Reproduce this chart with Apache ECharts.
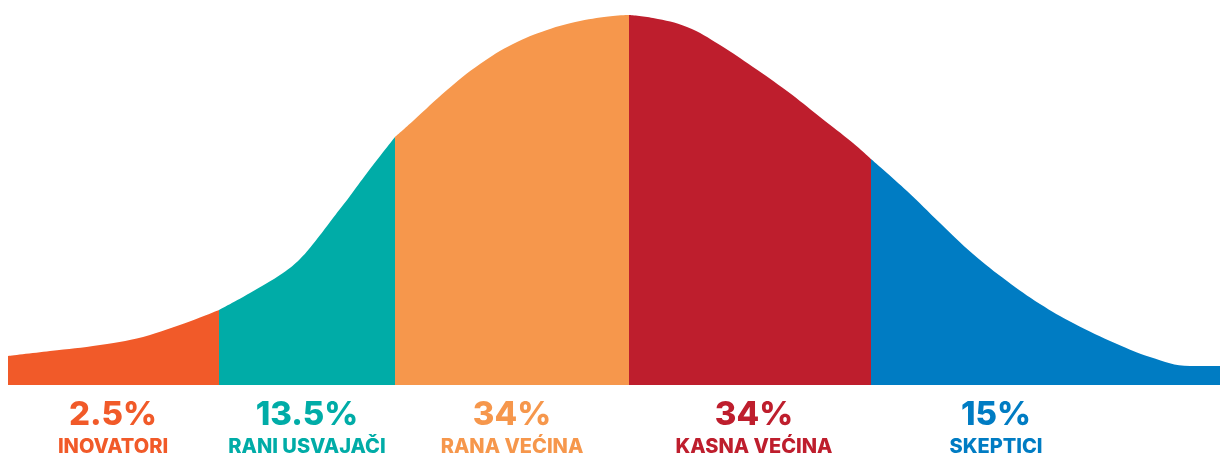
<!DOCTYPE html>
<html>
<head>
<meta charset="utf-8">
<script src="https://cdn.jsdelivr.net/npm/echarts@6/dist/echarts.min.js"></script>
<style>
  html, body { margin: 0; padding: 0; background: #fff; }
  #main { width: 1220px; height: 456px; }
</style>
</head>
<body>
<div id="main"></div>
<script>
// curve (x along the base, h = height above the base)
const curveX = [0, 42, 92, 142, 211, 242, 275, 292, 309, 325, 342, 359, 387, 405, 439, 472, 505, 539, 572, 605, 621, 645, 679, 712, 745, 779, 812, 845, 863, 899, 932, 965, 999, 1032, 1065, 1109, 1142, 1182, 1212]
const curveH = [29, 34, 40, 50, 75, 92, 112, 126, 146, 167, 189, 212, 248, 264, 295, 321, 341, 355, 364, 369, 370, 367, 358, 340, 318, 294, 268, 242, 226, 194, 162, 131, 104, 81, 62, 41, 28, 19, 19]

// segment borders
const breakX = [0, 211, 387, 621, 863, 1212]
const segColors = ["#F15A29", "#00ACA7", "#F6974C", "#BE1E2D", "#007CC3"]
const pctLabels = ["2.5%", "13.5%", "34%", "34%", "15%"]
const nameLabels = ["INOVATORI", "RANI USVAJAČI", "RANA VEĆINA", "KASNA VEĆINA", "SKEPTICI"]
const labelX = [105, 299, 504, 746, 988]

let chart = echarts.init(document.getElementById("main"))

let series = []
for (let i = 0; i < 5; i++) {
    let pts = []
    for (let j = 0; j < curveX.length; j++) {
        if (curveX[j] >= breakX[i] && curveX[j] <= breakX[i + 1]) {
            pts.push([curveX[j], curveH[j]])
        }
    }
    series.push({
        type: "line",
        data: pts,
        smooth: 0.4,
        showSymbol: false,
        lineStyle: { width: 0 },
        areaStyle: { color: segColors[i], opacity: 1 },
        itemStyle: { color: segColors[i] },
        silent: true
    })
}

let option = {
    animation: false,
    grid: { left: 8, right: 0, top: 15, bottom: 71 },
    xAxis: { type: "value", min: 0, max: 1212, show: false },
    yAxis: { type: "value", min: 0, max: 370, show: false },
    series: series
}
chart.setOption(option)

// labels under each segment
let texts = []
for (let i = 0; i < 5; i++) {
    let px = chart.convertToPixel({ xAxisIndex: 0 }, labelX[i])
    texts.push({
        type: "text",
        style: {
            text: pctLabels[i], x: px, y: 415,
            fill: segColors[i],
            font: "800 33px Inter, 'Noto Sans', sans-serif",
            align: "center", verticalAlign: "middle",
            textAlign: "center", textVerticalAlign: "middle"
        }
    })
    texts.push({
        type: "text",
        style: {
            text: nameLabels[i], x: px, y: 447,
            fill: segColors[i],
            font: "800 20px Inter, 'Noto Sans', sans-serif",
            align: "center", verticalAlign: "middle",
            textAlign: "center", textVerticalAlign: "middle"
        }
    })
}
chart.setOption({ graphic: texts })
</script>
</body>
</html>
